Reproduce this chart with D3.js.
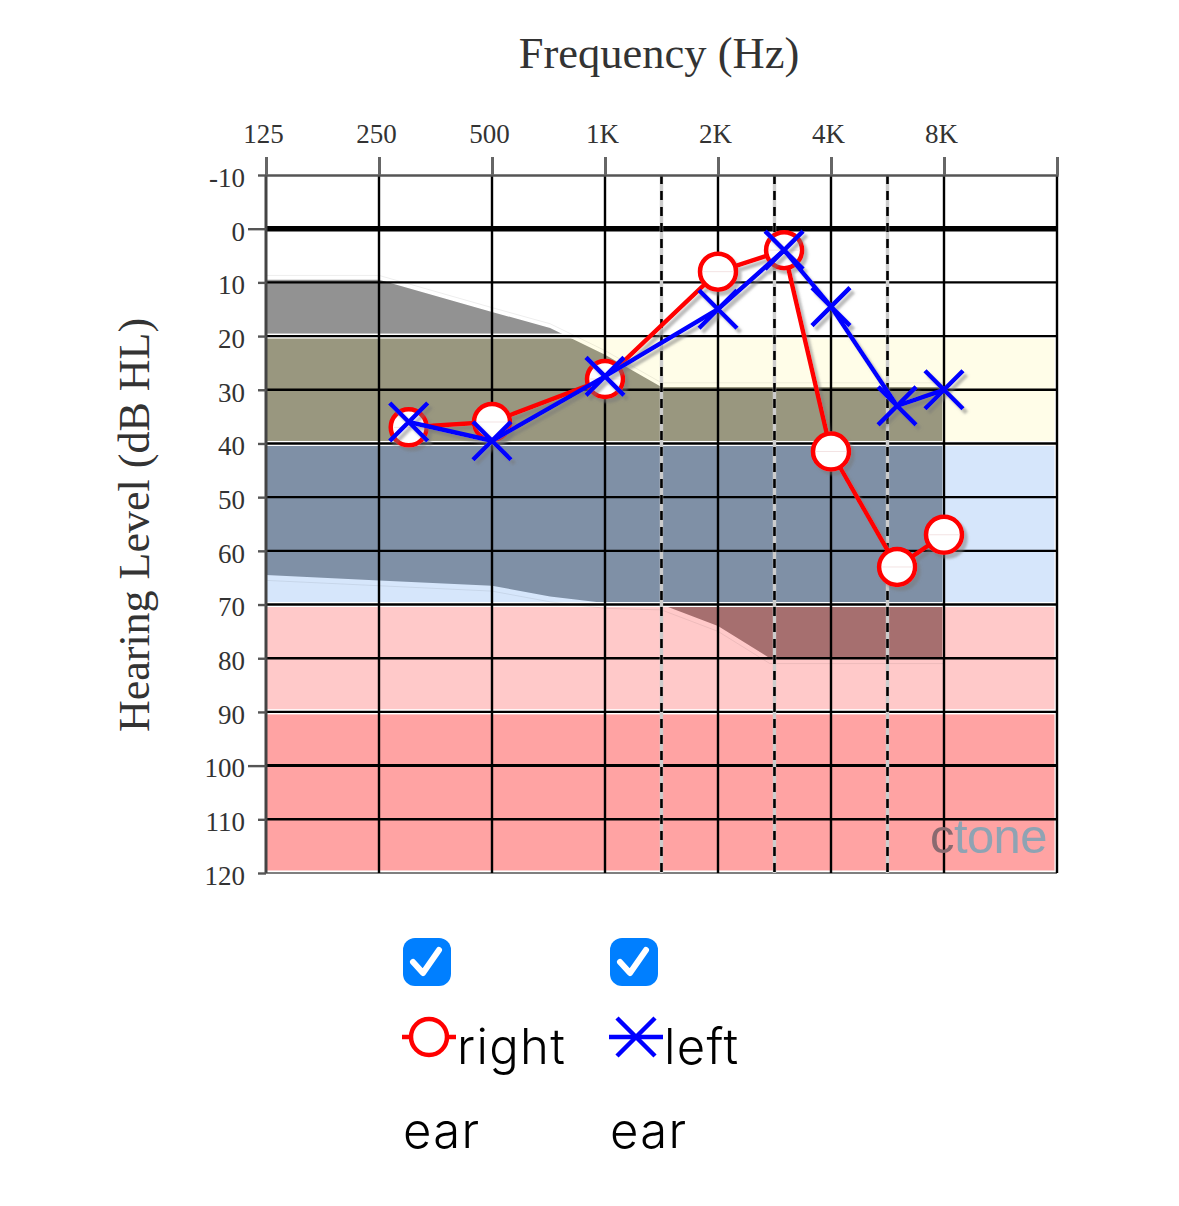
<!DOCTYPE html>
<html>
<head>
<meta charset="utf-8">
<script src="https://cdn.jsdelivr.net/npm/d3@7/dist/d3.min.js"></script>
<style>
  html, body { margin: 0; padding: 0; background: #fff; }
  svg { display: block; }
  .serif { font-family: "Liberation Serif", serif; fill: #333; }
  .legend-text { font-family: "Inter", sans-serif; font-weight: 300; font-size: 49px; letter-spacing: 1.3px; fill: #000; }
</style>
</head>
<body>
<div id="chart"></div>
<script>
// x axis
var freqTicks = [125, 250, 500, 1000, 2000, 4000, 8000, 16000];
var freqLabels = ['125', '250', '500', '1K', '2K', '4K', '8K', ''];
var midFreqs = [1414, 2828, 5657];

// y axis
var dbTicks = [-10, 0, 10, 20, 30, 40, 50, 60, 70, 80, 90, 100, 110, 120];

// thresholds
var testFreqs = [300, 500, 1000, 2000, 3000, 4000, 6000, 8000];
var rightEar = [37, 36, 28, 8, 4, 41.5, 63, 57];
var leftEar = [36, 39.5, 27.5, 15, 4, 14.5, 33, 30];

// severity bands, dB from / to
var bandFrom = [20, 40, 70, 90];
var bandTo = [40, 70, 90, 120];
var bandFill = ['#fffde8', '#d6e6fb', '#ffc9c9', '#ffa3a3'];

// same bands seen through the speech area
var shadeFrom = [-10, 20, 40, 70];
var shadeTo = [20, 40, 70, 90];
var shadeFill = ['#929292', '#99977f', '#7f90a6', '#a66f6f'];

// speech area outline
var speechFreqs = [125, 250, 500, 714, 1000, 1414, 8000];
var speechTop = [9.5, 9.5, 15.5, 18.5, 23.5, 29.5, 29.5];
var speechLowFreqs = [125, 250, 500, 714, 1000, 1414, 2000, 2750, 8000];
var speechLow = [64.5, 65.5, 66.5, 68.5, 69.7, 70, 74, 80, 80];

var width = 1179;
var height = 1206;
var margin = { top: 175, right: 122, bottom: 333, left: 266 };

var x = d3.scaleLog().base(2)
  .domain([125, 16000])
  .range([margin.left, width - margin.right]);

var y = d3.scaleLinear()
  .domain([-10, 120])
  .range([margin.top, height - margin.bottom]);

var svg = d3.select('#chart').append('svg')
  .attr('width', width)
  .attr('height', height);

var defs = svg.append('defs');

var shadow = defs.append('filter')
  .attr('id', 'shadow')
  .attr('x', '-10%').attr('y', '-10%')
  .attr('width', '120%').attr('height', '120%');
shadow.append('feDropShadow')
  .attr('dx', 3.5).attr('dy', 4)
  .attr('stdDeviation', 1)
  .attr('flood-color', '#777')
  .attr('flood-opacity', 0.5);

// speech area path: top edge left to right, then low edge right to left
var speechPoints = speechFreqs.map(function (f, i) { return [x(f), y(speechTop[i])]; })
  .concat(speechLowFreqs.map(function (f, i) { return [x(f), y(speechLow[i])]; }).reverse());

defs.append('clipPath').attr('id', 'speech-clip')
  .append('polygon')
  .attr('points', speechPoints.join(' '));

// bands, pushed left so the white edge hides behind the axis
svg.append('g').selectAll('rect')
  .data(bandFrom)
  .enter().append('rect')
    .attr('x', x(125) - 3)
    .attr('width', x(16000) - x(125) + 3)
    .attr('y', function (d) { return y(d); })
    .attr('height', function (d, i) { return y(bandTo[i]) - y(d); })
    .attr('fill', function (d, i) { return bandFill[i]; })
    .attr('stroke', '#fff')
    .attr('stroke-width', 5);

// speech area, one shade per band
svg.append('g').attr('clip-path', 'url(#speech-clip)').selectAll('rect')
  .data(shadeFrom)
  .enter().append('rect')
    .attr('x', x(125))
    .attr('width', x(8000) - x(125) - 2)
    .attr('y', function (d, i) { return y(d) + (i ? 2.5 : 0); })
    .attr('height', function (d, i) { return y(shadeTo[i]) - y(d) - (i ? 5 : 2.5); })
    .attr('fill', function (d, i) { return shadeFill[i]; });

// faint edge just outside the speech area
var edgeTop = d3.line()
  .x(function (d, i) { return x(speechFreqs[i]); })
  .y(function (d) { return y(d - 0.8); });
var edgeLow = d3.line()
  .x(function (d, i) { return x(speechLowFreqs[i]); })
  .y(function (d) { return y(d + 1); });
svg.append('path').attr('d', edgeTop(speechTop))
  .attr('fill', 'none').attr('stroke', '#000').attr('stroke-opacity', 0.07);
svg.append('path').attr('d', edgeLow(speechLow))
  .attr('fill', 'none').attr('stroke', '#000').attr('stroke-opacity', 0.07);

// horizontal grid
svg.append('g').selectAll('line')
  .data(dbTicks.slice(1))
  .enter().append('line')
    .attr('x1', x(125))
    .attr('x2', x(16000))
    .attr('y1', function (d) { return y(d); })
    .attr('y2', function (d) { return y(d); })
    .attr('stroke', function (d) { return d === 120 ? '#555' : '#000'; })
    .attr('stroke-width', function (d) {
      if (d === 0) return 5.5;
      if (d === 100) return 3;
      return d === 120 ? 1.5 : 2.4;
    });

// vertical grid
svg.append('g').selectAll('line')
  .data(freqTicks)
  .enter().append('line')
    .attr('x1', function (d) { return x(d); })
    .attr('x2', function (d) { return x(d); })
    .attr('y1', y(-10))
    .attr('y2', y(120))
    .attr('stroke', function (d) { return d === 125 ? '#444' : '#000'; })
    .attr('stroke-width', function (d) { return d === 125 ? 3 : 2.4; });

// dashed mid-octave lines with a pale line under them
var midLines = svg.append('g');
midLines.selectAll('.under')
  .data(midFreqs)
  .enter().append('line')
    .attr('class', 'under')
    .attr('x1', function (d) { return x(d); })
    .attr('x2', function (d) { return x(d); })
    .attr('y1', y(-10))
    .attr('y2', y(120))
    .attr('stroke', '#ccc')
    .attr('stroke-width', 3.4);
midLines.selectAll('.dash')
  .data(midFreqs)
  .enter().append('line')
    .attr('class', 'dash')
    .attr('x1', function (d) { return x(d); })
    .attr('x2', function (d) { return x(d); })
    .attr('y1', y(-10))
    .attr('y2', y(120))
    .attr('stroke', '#000')
    .attr('stroke-width', 2.6)
    .attr('stroke-dasharray', '9 7');

// top axis
var xAxis = d3.axisTop(x)
  .tickValues(freqTicks)
  .tickFormat(function (d, i) { return freqLabels[i]; })
  .tickSize(18)
  .tickPadding(14);

var xAxisG = svg.append('g')
  .attr('transform', 'translate(0,' + y(-10) + ')')
  .call(xAxis);
xAxisG.select('.domain').attr('stroke', '#555').attr('stroke-width', 2.4);
xAxisG.selectAll('.tick line').attr('stroke', '#666').attr('stroke-width', 3);
xAxisG.selectAll('.tick text')
  .attr('class', 'serif')
  .attr('dx', -3)
  .style('font-size', '27px');

// left axis
var yAxis = d3.axisLeft(y)
  .tickValues(dbTicks)
  .tickFormat(function (d) { return String(d); })
  .tickSize(8)
  .tickPadding(13);

var yAxisG = svg.append('g')
  .attr('transform', 'translate(' + x(125) + ',0)')
  .call(yAxis);
yAxisG.select('.domain').remove();
yAxisG.selectAll('.tick line')
  .attr('stroke', '#555')
  .attr('stroke-width', 2.4)
  .attr('x2', function (d) { return d === 0 || d === 100 ? -18 : -8; });
yAxisG.selectAll('.tick text')
  .attr('class', 'serif')
  .attr('dy', '0.42em')
  .style('font-size', '27px');

// titles
svg.append('text')
  .attr('class', 'serif')
  .attr('x', 659)
  .attr('y', 68)
  .attr('text-anchor', 'middle')
  .style('font-size', '44.5px')
  .text('Frequency (Hz)');

svg.append('text')
  .attr('class', 'serif')
  .attr('transform', 'translate(149,525) rotate(-90)')
  .attr('text-anchor', 'middle')
  .style('font-size', '44px')
  .text('Hearing Level (dB HL)');

// watermark
var mark = svg.append('text')
  .attr('x', 930)
  .attr('y', 853)
  .style('font-family', '"Liberation Sans", sans-serif')
  .style('font-size', '49px')
  .style('letter-spacing', '-0.6px');
mark.append('tspan').attr('fill', '#8a6a70').text('c');
mark.append('tspan').attr('fill', '#8fa3b3').text('tone');

// threshold lines
var line = d3.line()
  .x(function (d, i) { return x(testFreqs[i]); })
  .y(function (d) { return y(d); });

function drawCircle(g, cx, cy) {
  g.append('circle')
    .attr('cx', cx).attr('cy', cy).attr('r', 18)
    .attr('fill', '#fff')
    .attr('stroke', '#f00')
    .attr('stroke-width', 4.5);
}

function drawCross(g, cx, cy, size) {
  g.append('path')
    .attr('d', 'M' + (cx - size) + ',' + (cy - size) + 'L' + (cx + size) + ',' + (cy + size) +
      'M' + (cx - size) + ',' + (cy + size) + 'L' + (cx + size) + ',' + (cy - size))
    .attr('fill', 'none')
    .attr('stroke', '#00f')
    .attr('stroke-width', 4.5);
}

var rightG = svg.append('g').attr('filter', 'url(#shadow)');
rightG.append('path')
  .attr('d', line(rightEar))
  .attr('fill', 'none')
  .attr('stroke', '#f00')
  .attr('stroke-width', 4.5);
rightEar.forEach(function (d, i) {
  drawCircle(rightG, x(testFreqs[i]), y(d));
  // tiny tick left inside the marker
  rightG.append('line')
    .attr('x1', x(testFreqs[i]) - 15).attr('x2', x(testFreqs[i]) + 15)
    .attr('y1', y(d)).attr('y2', y(d))
    .attr('stroke', '#c88').attr('stroke-opacity', 0.4).attr('stroke-width', 0.6);
});

var leftG = svg.append('g').attr('filter', 'url(#shadow)');
leftG.append('path')
  .attr('d', line(leftEar))
  .attr('fill', 'none')
  .attr('stroke', '#00f')
  .attr('stroke-width', 4.5);
leftEar.forEach(function (d, i) {
  drawCross(leftG, x(testFreqs[i]), y(d), 19);
});

// legend
function drawCheckbox(bx) {
  svg.append('rect')
    .attr('x', bx).attr('y', 938)
    .attr('width', 48).attr('height', 48)
    .attr('rx', 12)
    .attr('fill', '#007fff');
  svg.append('path')
    .attr('d', 'M' + (bx + 10) + ',962L' + (bx + 20) + ',973L' + (bx + 36) + ',950')
    .attr('fill', 'none')
    .attr('stroke', '#fff')
    .attr('stroke-width', 6)
    .attr('stroke-linecap', 'round')
    .attr('stroke-linejoin', 'round');
}

drawCheckbox(403);
drawCheckbox(610);

var legendG = svg.append('g');
legendG.append('line')
  .attr('x1', 402).attr('x2', 456)
  .attr('y1', 1037).attr('y2', 1037)
  .attr('stroke', '#f00').attr('stroke-width', 4.5);
drawCircle(legendG, 429, 1037);
legendG.append('line')
  .attr('x1', 609).attr('x2', 663)
  .attr('y1', 1037).attr('y2', 1037)
  .attr('stroke', '#00f').attr('stroke-width', 4.5);
drawCross(legendG, 636, 1037, 19);

function legendText(tx, ty, label) {
  svg.append('text')
    .attr('class', 'legend-text')
    .attr('x', tx)
    .attr('y', ty)
    .text(label);
}

legendText(457, 1064, 'right');
legendText(664, 1064, 'left');
legendText(403, 1148, 'ear');
legendText(610, 1148, 'ear');
</script>
</body>
</html>
